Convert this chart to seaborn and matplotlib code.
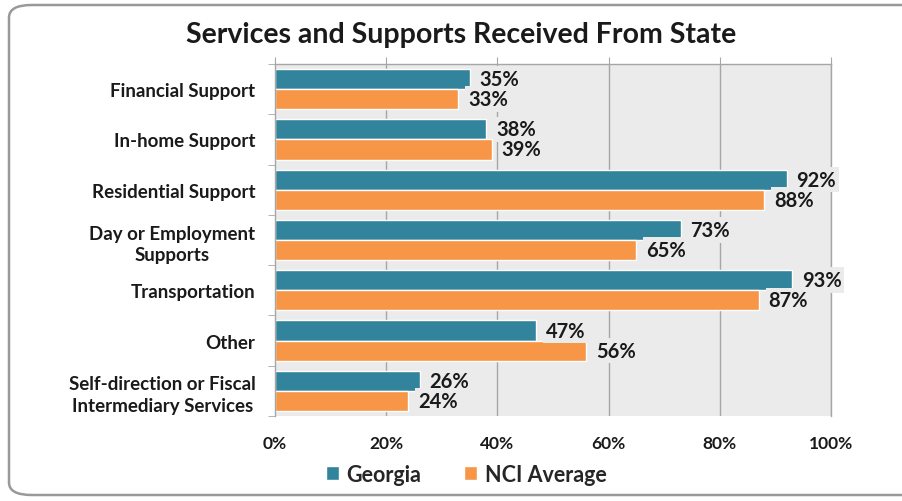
import numpy as np
import pandas as pd
import matplotlib.pyplot as plt
from matplotlib.patches import FancyBboxPatch
import seaborn as sns

# data
categories = ['Financial Support', 'In-home Support', 'Residential Support',
              'Day or Employment\nSupports', 'Transportation', 'Other',
              'Self-direction or Fiscal\nIntermediary Services']
georgia = [35, 38, 92, 73, 93, 47, 26]
nci_avg = [33, 39, 88, 65, 87, 56, 24]
groups = ['Georgia', 'NCI Average']
x_ticks = [0, 20, 40, 60, 80, 100]
x_tick_labels = ['0%', '20%', '40%', '60%', '80%', '100%']

teal = '#31849B'
orange = '#F79646'
bg = '#EBEBEB'
grid_col = '#A6A6A6'

df = pd.DataFrame({
    'category': categories * 2,
    'value': georgia + nci_avg,
    'group': [groups[0]] * len(categories) + [groups[1]] * len(categories),
})

sns.set_style('white')
plt.rcParams['font.family'] = ['Lato', 'DejaVu Sans']
plt.rcParams['font.weight'] = 'bold'

fig = plt.figure(figsize=(9.02, 5.02), dpi=100)
ax = fig.add_axes([275 / 902, 1 - 417 / 502, (831 - 275) / 902, 352 / 502])
ax.set_facecolor(bg)

sns.barplot(data=df, y='category', x='value', hue='group', orient='h',
            palette=[teal, orange], width=0.8, saturation=1, ax=ax,
            order=categories, hue_order=groups)

ax.set_xlim(0, 100)
ax.set_ylim(len(categories) - 0.5, -0.5)
ax.set_xlabel('')
ax.set_ylabel('')

# vertical gridlines
for xv in x_ticks[1:]:
    ax.axvline(xv, color=grid_col, lw=1, zorder=0)
ax.set_axisbelow(True)

ax.set_xticks(x_ticks)
ax.set_xticklabels(x_tick_labels, fontsize=12.5, fontweight='bold', color='#1a1a1a')
ax.tick_params(axis='x', top=True, bottom=False, labeltop=False, labelbottom=True,
               length=5, color=grid_col, pad=9, direction='out')

ax.set_yticks(range(len(categories)))
ax.set_yticklabels(categories, fontsize=13.5, fontweight='bold', color='#1a1a1a')
for lab in ax.get_yticklabels():
    lab.set_multialignment('center')
    lab.set_linespacing(1.3)
ax.tick_params(axis='y', length=0, pad=14)
ax.set_yticks(np.arange(-0.5, len(categories), 1), minor=True)
ax.tick_params(axis='y', which='minor', length=5, color=grid_col, direction='out', left=True)

for side in ['top', 'left', 'right']:
    ax.spines[side].set_color(grid_col)
    ax.spines[side].set_linewidth(1)
ax.spines['bottom'].set_visible(False)

# value labels
for cont in ax.containers:
    labels = ax.bar_label(cont, fmt='%d%%', padding=7, fontsize=14.5,
                          fontweight='bold', color='#1a1a1a')
    for t in labels:
        t.set_bbox(dict(facecolor=bg, edgecolor='none', pad=2))
        t.set_clip_on(False)

ax.legend(loc='center', bbox_to_anchor=(466 / 902, 1 - 475 / 502),
          bbox_transform=fig.transFigure, ncol=2, frameon=False,
          handlelength=0.6, handleheight=0.6, handletextpad=0.35,
          columnspacing=2.0, prop={'size': 15.5, 'weight': 'bold'})

fig.text(461 / 902, 1 - 35 / 502, 'Services and Supports Received From State',
         ha='center', va='center', fontsize=20.5, fontweight='bold', color='#1a1a1a')

# outer rounded border
frame = FancyBboxPatch((9 / 902, 6 / 502), 1.2, 490 / 502,
                       boxstyle='round,pad=0,rounding_size=0.025',
                       transform=fig.transFigure, facecolor='none',
                       edgecolor='#999999', lw=1.8, zorder=-1)
fig.patches.append(frame)

fig.savefig('out.png', dpi=100)
